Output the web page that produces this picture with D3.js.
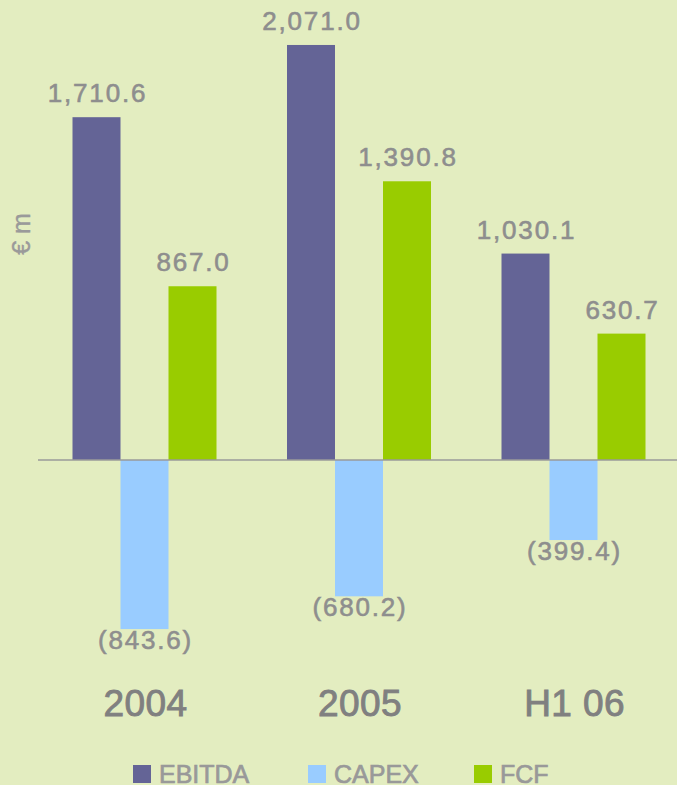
<!DOCTYPE html>
<html>
<head>
<meta charset="utf-8">
<script src="https://cdn.jsdelivr.net/npm/d3@7"></script>
<style>
  html, body { margin: 0; padding: 0; background: #E3EDC0; }
  svg { display: block; }
</style>
</head>
<body>
<div id="chart"></div>
<script>
const categories = ["2004", "2005", "H1 06"];
const seriesNames = ["EBITDA", "CAPEX", "FCF"];
const ebitda = [1710.6, 2071.0, 1030.1];
const capex = [-843.6, -680.2, -399.4];
const fcf = [867.0, 1390.8, 630.7];
const colors = ["#646496", "#99CCFF", "#99CC00"];
const yLabel = "€ m";

const W = 677, H = 785;
const svg = d3.select("#chart").append("svg").attr("width", W).attr("height", H);
svg.append("rect").attr("width", W).attr("height", H).attr("fill", "#E3EDC0");

const values = [ebitda, capex, fcf];
const rows = categories.map((c, i) => ({cat: c, vals: seriesNames.map((s, j) => ({series: s, idx: j, v: values[j][i]}))}));

const y = d3.scaleLinear().domain([-1000, 2100]).range([460 + 1000 * 0.2004, 460 - 2100 * 0.2004]);
const x0 = d3.scalePoint().domain(categories).range([144.5, 573.5]);
const x1 = d3.scaleBand().domain(seriesNames).range([-72, 72]).padding(0);

const labelFont = "'Liberation Sans', Arial, sans-serif";
const fmt = d3.format(",.1f");

const groups = svg.selectAll("g.grp").data(rows).join("g")
  .attr("class", "grp")
  .attr("transform", d => `translate(${x0(d.cat)},0)`);

groups.selectAll("rect").data(d => d.vals).join("rect")
  .attr("x", d => x1(d.series))
  .attr("width", x1.bandwidth())
  .attr("y", d => Math.min(y(d.v), y(0)))
  .attr("height", d => Math.abs(y(d.v) - y(0)))
  .attr("fill", d => colors[d.idx]);

groups.selectAll("text.val").data(d => d.vals).join("text")
  .attr("class", "val")
  .attr("x", d => x1(d.series) + x1.bandwidth() / 2 + 1)
  .attr("y", d => d.v >= 0 ? y(d.v) - 15 : y(d.v) + 20)
  .attr("text-anchor", "middle")
  .attr("font-family", labelFont)
  .attr("font-size", 26)
  .attr("letter-spacing", "1.8px")
  .attr("fill", "#8E8E8E")
  .attr("stroke", "#8E8E8E")
  .attr("stroke-width", 0.6)
  .text(d => d.v >= 0 ? fmt(d.v) : "(" + fmt(-d.v) + ")");

// zero axis line
svg.append("line")
  .attr("x1", 38).attr("x2", W)
  .attr("y1", y(0)).attr("y2", y(0))
  .attr("stroke", "#9A9A9A").attr("stroke-width", 1.6);

// category labels
svg.selectAll("text.cat").data(categories).join("text")
  .attr("class", "cat")
  .attr("x", d => x0(d) + 1)
  .attr("y", 716)
  .attr("text-anchor", "middle")
  .attr("font-family", labelFont)
  .attr("font-size", 37)
  .attr("letter-spacing", "0.4px")
  .attr("fill", "#808080")
  .attr("stroke", "#808080")
  .attr("stroke-width", 0.9)
  .text(d => d);

// y label
svg.append("text")
  .attr("transform", "translate(30,234) rotate(-90)")
  .attr("text-anchor", "middle")
  .attr("font-family", labelFont)
  .attr("font-size", 25)
  .attr("fill", "#9A9A9A")
  .attr("stroke", "#9A9A9A")
  .attr("stroke-width", 0.4)
  .text(yLabel);

// legend
const legendX = [133, 308, 474];
const leg = svg.selectAll("g.leg").data(seriesNames).join("g")
  .attr("class", "leg")
  .attr("transform", (d, i) => `translate(${legendX[i]},765)`);
leg.append("rect").attr("width", 18).attr("height", 18).attr("fill", (d, i) => colors[i]);
leg.append("text")
  .attr("x", 26).attr("y", 18)
  .attr("font-family", labelFont)
  .attr("font-size", 25)
  .attr("fill", "#999999")
  .attr("stroke", "#999999")
  .attr("stroke-width", 0.7)
  .text(d => d);
</script>
</body>
</html>
